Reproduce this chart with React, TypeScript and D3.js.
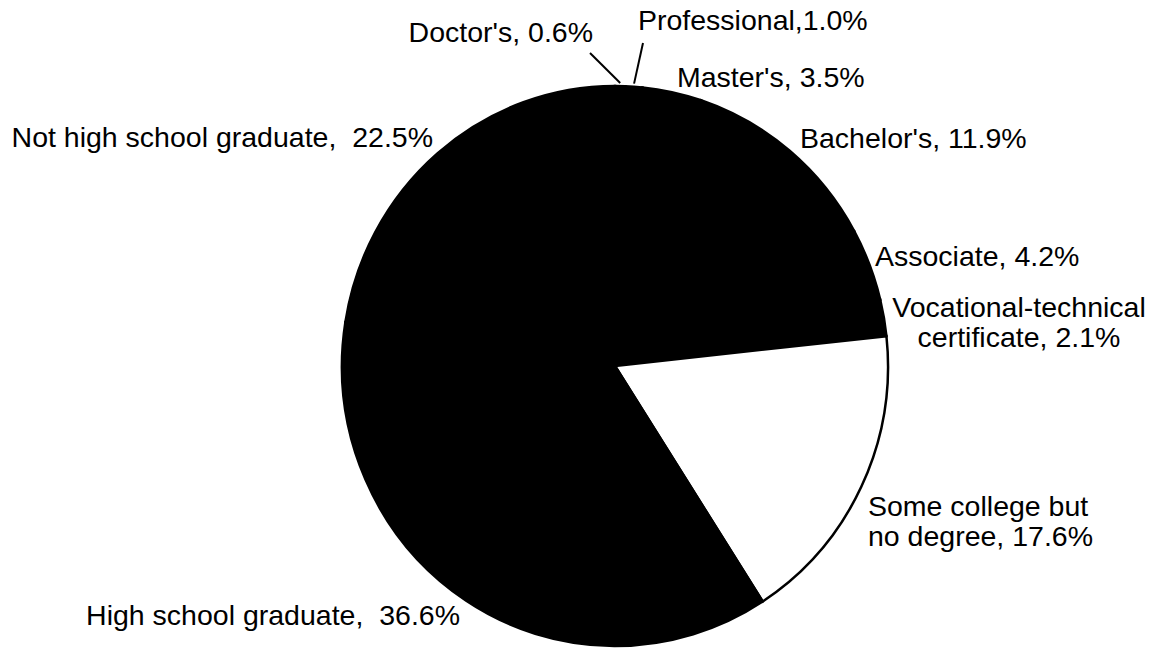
import React from 'react';
import * as d3 from 'd3';

// educational attainment shares, clockwise from 12 o'clock
const categories = [
  "Doctor's",
  'Professional',
  "Master's",
  "Bachelor's",
  'Associate',
  'Vocational-technical certificate',
  'Some college but no degree',
  'High school graduate',
  'Not high school graduate',
];
const shares = [0.6, 1.0, 3.5, 11.9, 4.2, 2.1, 17.6, 36.6, 22.5];
const labelLines = [
  ["Doctor's, 0.6%"],
  ['Professional,1.0%'],
  ["Master's, 3.5%"],
  ["Bachelor's, 11.9%"],
  ['Associate, 4.2%'],
  ['Vocational-technical', 'certificate, 2.1%'],
  ['Some college but', 'no degree, 17.6%'],
  ['High school graduate,  36.6%'],
  ['Not high school graduate,  22.5%'],
];
const whiteSlice = 'Some college but no degree';

// layout
const W = 1151;
const H = 648;
const CX = 615;
const CY = 366;
const RX = 273;
const RY = 280;
const FONT = 28.5;
const LINE_H = 30;

// label anchor (x, first baseline, text-anchor), leader end if any
const labelLayout: { x: number; y: number; anchor: 'start' | 'middle' | 'end'; lx?: number; ly?: number }[] = [
  { x: 593, y: 42, anchor: 'end', lx: 590, ly: 53 },
  { x: 638, y: 30, anchor: 'start', lx: 643, ly: 43 },
  { x: 677, y: 87, anchor: 'start' },
  { x: 800, y: 148, anchor: 'start' },
  { x: 875, y: 266, anchor: 'start' },
  { x: 1019, y: 317, anchor: 'middle' },
  { x: 868, y: 516, anchor: 'start' },
  { x: 460, y: 625, anchor: 'end' },
  { x: 433, y: 147, anchor: 'end' },
];

export default function App() {
  const pie = d3.pie<number>().sort(null).value(d => d)(shares);
  const arc = d3.arc<d3.PieArcDatum<number>>().innerRadius(0).outerRadius(RX);
  const edge = d3.arc<d3.PieArcDatum<number>>().innerRadius(RX + 3).outerRadius(RX + 3);
  const sy = RY / RX;

  return (
    <svg width={W} height={H} style={{ position: 'absolute', left: 0, top: 0, background: '#fff' }}>
      <g transform={`translate(${CX},${CY}) scale(1,${sy})`}>
        {pie.map((d, i) => (
          <path
            key={categories[i]}
            d={arc(d) || ''}
            fill={categories[i] === whiteSlice ? '#fff' : '#000'}
            stroke="#000"
            strokeWidth={2.5}
            vectorEffect="non-scaling-stroke"
          />
        ))}
      </g>
      {pie.map((d, i) => {
        const l = labelLayout[i];
        if (l.lx === undefined || l.ly === undefined) return null;
        const [ex, ey] = edge.centroid(d);
        return (
          <line key={'ln' + i} x1={CX + ex} y1={CY + ey * sy} x2={l.lx} y2={l.ly} stroke="#000" strokeWidth={2} />
        );
      })}
      {labelLines.map((lines, i) => {
        const l = labelLayout[i];
        return (
          <text
            key={'t' + i}
            x={l.x}
            y={l.y}
            textAnchor={l.anchor}
            fontFamily="'Liberation Sans', Arial, Helvetica, sans-serif"
            fontSize={FONT}
            fill="#000"
            style={{ whiteSpace: 'pre' }}
          >
            {lines.map((s, j) => (
              <tspan key={j} x={l.x} dy={j === 0 ? 0 : LINE_H}>{s}</tspan>
            ))}
          </text>
        );
      })}
    </svg>
  );
}
